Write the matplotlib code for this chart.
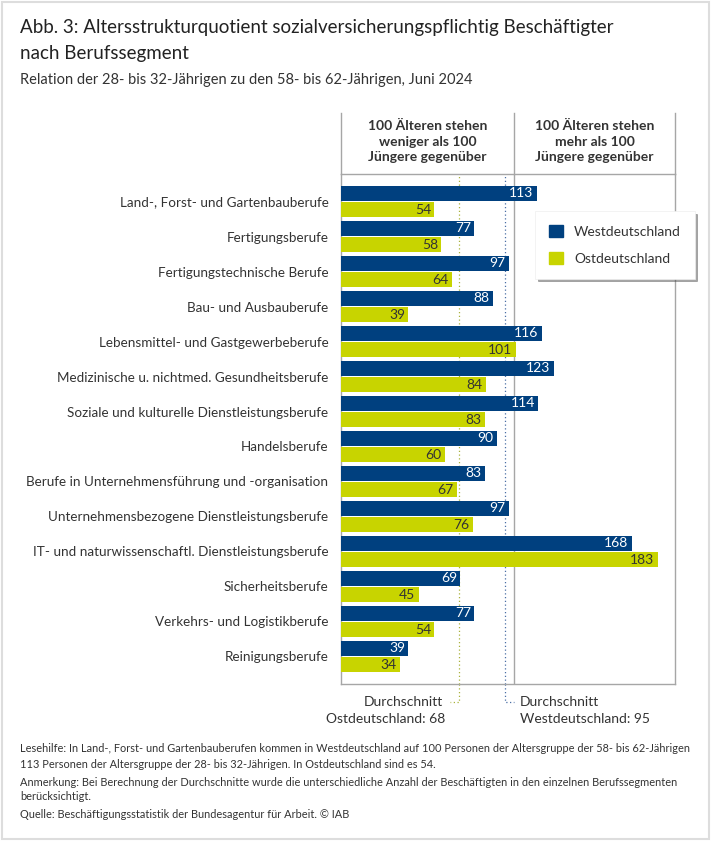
import matplotlib.pyplot as plt
from matplotlib.patches import Rectangle

plt.rcParams['font.family'] = ['Lato', 'DejaVu Sans']

# Daten
categories = [
    'Land-, Forst- und Gartenbauberufe',
    'Fertigungsberufe',
    'Fertigungstechnische Berufe',
    'Bau- und Ausbauberufe',
    'Lebensmittel- und Gastgewerbeberufe',
    'Medizinische u. nichtmed. Gesundheitsberufe',
    'Soziale und kulturelle Dienstleistungsberufe',
    'Handelsberufe',
    'Berufe in Unternehmensführung und -organisation',
    'Unternehmensbezogene Dienstleistungsberufe',
    'IT- und naturwissenschaftl. Dienstleistungsberufe',
    'Sicherheitsberufe',
    'Verkehrs- und Logistikberufe',
    'Reinigungsberufe',
]
west = [113, 77, 97, 88, 116, 123, 114, 90, 83, 97, 168, 69, 77, 39]
ost = [54, 58, 64, 39, 101, 84, 83, 60, 67, 76, 183, 45, 54, 34]
avg_west = 95
avg_ost = 68

c_west = '#00407f'
c_ost = '#c8d400'
c_text = '#333333'
c_grid = '#a6a6a6'

W, H = 711, 841
fig = plt.figure(figsize=(W / 100, H / 100), dpi=100)

def fx(px):
    return px / W

def fy(py):
    return 1 - py / H

# Rahmen
fig.patches.append(Rectangle((fx(2), fy(839)), fx(707), 1 - 4 / H, transform=fig.transFigure,
                             fill=False, edgecolor='#dddddd', linewidth=1.5))

# Titel
fig.text(fx(20), fy(28), 'Abb. 3: Altersstrukturquotient sozialversicherungspflichtig Beschäftigter',
         fontsize=13.5, color='#222222', va='center', ha='left')
fig.text(fx(20), fy(53), 'nach Berufssegment', fontsize=13.5, color='#222222', va='center', ha='left')
fig.text(fx(20), fy(80), 'Relation der 28- bis 32-Jährigen zu den 58- bis 62-Jährigen, Juni 2024',
         fontsize=10.5, color=c_text, va='center', ha='left')

ax_l, ax_r, ax_t, ax_b = 341, 675, 174, 684
ax = fig.add_axes([fx(ax_l), fy(ax_b), (ax_r - ax_l) / W, (ax_b - ax_t) / H])

n = len(categories)
ypos = list(range(n))
bh = 0.44
ax.barh([y - bh / 2 - 0.01 for y in ypos], west, height=bh, color=c_west, zorder=3)
ax.barh([y + bh / 2 + 0.01 for y in ypos], ost, height=bh, color=c_ost, zorder=3)

for y, v in zip(ypos, west):
    ax.text(v - 2, y - bh / 2 - 0.01, str(v), color='white', ha='right', va='center', fontsize=10, zorder=4)
for y, v in zip(ypos, ost):
    ax.text(v - 2, y + bh / 2 + 0.01, str(v), color=c_text, ha='right', va='center', fontsize=10, zorder=4)

ax.set_xlim(0, 193)
ax.set_ylim(n - 1 + 0.786, -0.786)
ax.set_yticks(ypos)
ax.set_yticklabels(categories, fontsize=9.75, color=c_text)
ax.tick_params(axis='y', length=0, pad=9)
ax.set_xticks([])
for s in ax.spines.values():
    s.set_color(c_grid)
    s.set_linewidth(1)

c_dot_ost = '#a9b23a'
c_dot_west = '#4a6fa5'
ax.axvline(100, color=c_grid, linewidth=1, zorder=1)
ax.axvline(avg_ost, color=c_dot_ost, linewidth=0.9, linestyle=(0, (1, 2)), zorder=2)
ax.axvline(avg_west, color=c_dot_west, linewidth=0.9, linestyle=(0, (1, 2)), zorder=2)

# Kopfbereich über der Achse
tr = ax.get_xaxis_transform()
top_hdr = (ax_b - 113) / (ax_b - ax_t)
for xv in [0, 100, 193]:
    ax.plot([xv, xv], [1, top_hdr], transform=tr, color=c_grid, linewidth=1, clip_on=False)

hdr_y = 1 + (ax_t - 141.5) / (ax_b - ax_t)
ax.text(50, hdr_y, '100 Älteren stehen\nweniger als 100\nJüngere gegenüber', transform=tr,
        ha='center', va='center', fontsize=10, fontweight='bold', color=c_text, linespacing=1.35)
ax.text(146.5, hdr_y, '100 Älteren stehen\nmehr als 100\nJüngere gegenüber', transform=tr,
        ha='center', va='center', fontsize=10, fontweight='bold', color=c_text, linespacing=1.35)

# Durchschnittslinien unterhalb
y_low = -(702 - ax_b) / (ax_b - ax_t)
ax.plot([avg_ost, avg_ost, avg_ost - 5], [0, y_low, y_low], transform=tr, color=c_dot_ost,
        linewidth=0.9, linestyle=(0, (1, 2)), clip_on=False)
ax.plot([avg_west, avg_west, avg_west + 5], [0, y_low, y_low], transform=tr, color=c_dot_west,
        linewidth=0.9, linestyle=(0, (1, 2)), clip_on=False)
fig.text(fx(443), fy(702), 'Durchschnitt', ha='right', va='center', fontsize=10, color=c_text)
fig.text(fx(445), fy(719), 'Ostdeutschland: 68', ha='right', va='center', fontsize=10, color=c_text)
fig.text(fx(520), fy(702), 'Durchschnitt', ha='left', va='center', fontsize=10, color=c_text)
fig.text(fx(520), fy(719), 'Westdeutschland: 95', ha='left', va='center', fontsize=10, color=c_text)

# Legende
leg = ax.legend(handles=[Rectangle((0, 0), 1, 1, color=c_west), Rectangle((0, 0), 1, 1, color=c_ost)],
                labels=['Westdeutschland', 'Ostdeutschland'], loc='upper left',
                bbox_to_anchor=(fx(535), fy(211)), bbox_transform=fig.transFigure,
                fontsize=10, frameon=True, fancybox=False, shadow=True, handlelength=1, handleheight=1,
                borderpad=1.0, labelspacing=1.0, handletextpad=0.8, borderaxespad=0)
leg.get_frame().set_edgecolor('#eeeeee')
leg.get_frame().set_linewidth(0.5)
for t in leg.get_texts():
    t.set_color(c_text)
leg.set_zorder(10)

# Fußnoten
notes = [
    (749, 'Lesehilfe: In Land-, Forst- und Gartenbauberufen kommen in Westdeutschland auf 100 Personen der Altersgruppe der 58- bis 62-Jährigen'),
    (765, '113 Personen der Altersgruppe der 28- bis 32-Jährigen. In Ostdeutschland sind es 54.'),
    (782, 'Anmerkung: Bei Berechnung der Durchschnitte wurde die unterschiedliche Anzahl der Beschäftigten in den einzelnen Berufssegmenten'),
    (797, 'berücksichtigt.'),
    (814, 'Quelle: Beschäftigungsstatistik der Bundesagentur für Arbeit. © IAB'),
]
for yy, t in notes:
    fig.text(fx(20), fy(yy), t, fontsize=7.9, color=c_text, ha='left', va='center')

fig.savefig('out.png', dpi=100)
